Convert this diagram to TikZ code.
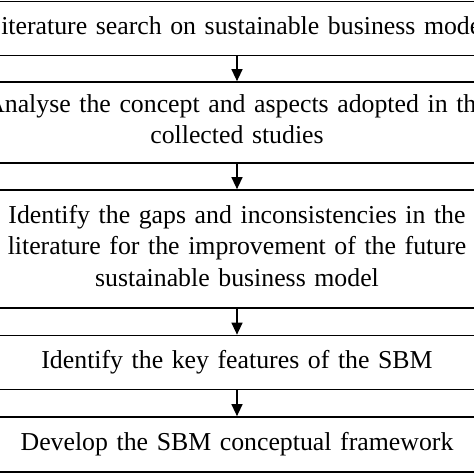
\documentclass[tikz,border=0pt]{standalone}
\usepackage{fontspec}
\setmainfont{Liberation Serif}
\usetikzlibrary{arrows.meta}
\begin{document}
\begin{tikzpicture}[x=1pt,y=-1pt,
  stage/.style={draw, line width=1.7pt, minimum width=640pt, text width=620pt,
    align=center, inner sep=0pt, text height=18.5pt, text depth=7.5pt,
    font=\fontsize{25.8}{31.5}\selectfont},
  twoline/.style={text depth=39pt},
  threeline/.style={text depth=70.5pt},
  flow/.style={line width=1.3pt, -{Triangle[length=12pt,width=11pt]}}]
\useasboundingbox (0,0) rectangle (474,474);
\clip (0,0) rectangle (474,474);
\fill[white] (0,0) rectangle (474,474);
\node[stage, minimum height=54pt] (b1) at (237,28.5) {Literature search on sustainable business model};
\node[stage, twoline, minimum height=81pt] (b2) at (237,122.5) {Analyse the concept and aspects adopted in the\\collected studies};
\node[stage, threeline, minimum height=118pt] (b3) at (237,249) {Identify the gaps and inconsistencies in the\\literature for the improvement of the future\\sustainable business model};
\node[stage, minimum height=54pt] (b4) at (237,362.5) {Identify the key features of the SBM};
\node[stage, minimum height=55pt] (b5) at (237,444.5) {Develop the SBM conceptual framework};
\draw[flow] (b1) -- (b2);
\draw[flow] (b2) -- (b3);
\draw[flow] (b3) -- (b4);
\draw[flow] (b4) -- (b5);
\end{tikzpicture}
\end{document}
